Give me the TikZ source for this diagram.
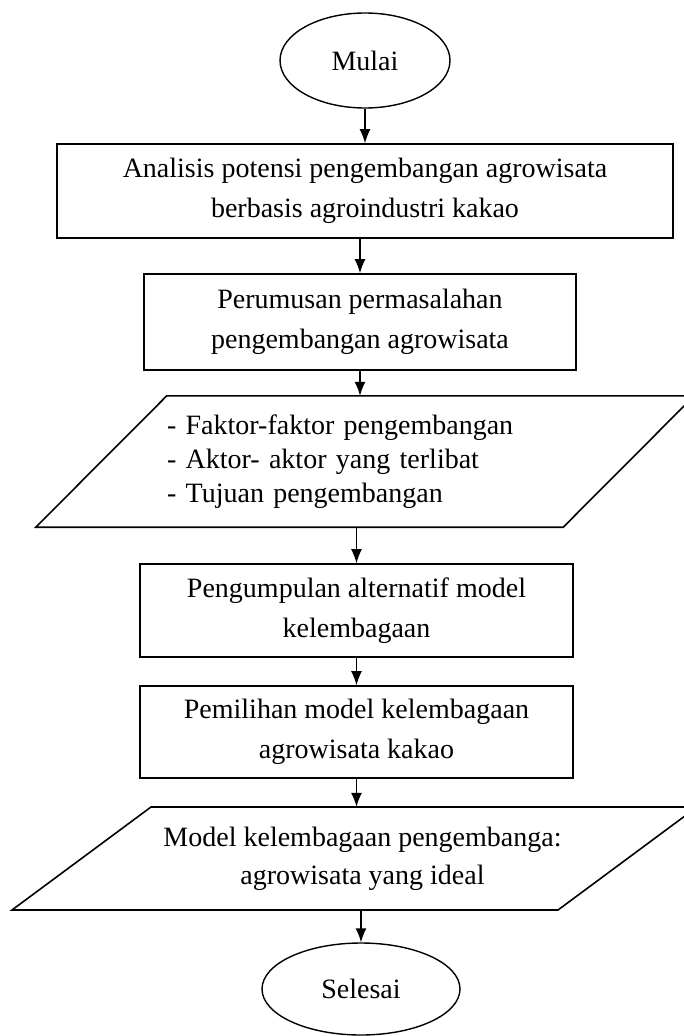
\documentclass[tikz,border=0pt]{standalone}
\usepackage{fontspec}
\setmainfont{Liberation Serif}
\usetikzlibrary{shapes, arrows.meta}

\begin{document}
\begin{tikzpicture}[x=1pt, y=-1pt,
	box/.style={draw, rectangle, line width=1.6pt, align=center, inner sep=0pt,
		font=\fontsize{28}{40}\selectfont},
	oval/.style={draw, ellipse, line width=1.4pt, inner sep=0pt,
		font=\fontsize{28}{40}\selectfont},
	plain/.style={rectangle, inner sep=0pt},
	arrow/.style={->, line width=1.4pt, >={Latex[length=14pt, width=11pt]}}]
	\def \slantA {131}

	\useasboundingbox (0,0) rectangle (684,1036);

	\node[oval, minimum width=170pt, minimum height=95pt] (start) at (365,60.5)
		{Mulai};
	\node[box, minimum width=616pt, minimum height=94pt] (first) at (365,191)
		{Analisis potensi pengembangan agrowisata\\ berbasis agroindustri kakao};
	\node[box, minimum width=432pt, minimum height=96pt] (second) at (360,322)
		{Perumusan permasalahan\\ pengembangan agrowisata};
	\node[plain, text width=396pt, align=left, minimum height=131pt,
		font=\fontsize{28}{34}\selectfont] (third) at (365,461.5)
		{- Faktor-faktor pengembangan\\ - Aktor- aktor yang terlibat\\ - Tujuan pengembangan};
	\node[box, minimum width=433pt, minimum height=93pt] (fourth) at (356.5,610.5)
		{Pengumpulan alternatif model\\ kelembagaan};
	\node[box, minimum width=433pt, minimum height=92pt] (fifth) at (356.5,732)
		{Pemilihan model kelembagaan\\ agrowisata kakao};
	\node[plain, align=center, minimum height=103pt,
		font=\fontsize{28}{38}\selectfont] (sixth) at (362.5,858.5)
		{Model kelembagaan pengembanga:\\ agrowisata yang ideal};
	\node[oval, minimum width=198pt, minimum height=92pt] (finish) at (361,989)
		{Selesai};

	% parallelograms round the two text nodes
	\draw[line width=1.6pt] ([xshift=-\slantA pt]third.south west) -- (third.north west)
		-- ([xshift=\slantA pt]third.north east) -- (third.south east) -- cycle;
	\draw[line width=1.6pt] ([shift={(-350.5,51.5)}]sixth.center) -- ([shift={(-211.5,-51.5)}]sixth.center)
		-- ([shift={(334.5,-51.5)}]sixth.center) -- ([shift={(195.5,51.5)}]sixth.center) -- cycle;

	\draw[arrow] (start.south) -- (start.south |- first.north);
	\draw[arrow] (second.north |- first.south) -- (second.north);
	\draw[arrow] (second.south) -- (second.south |- third.north);
	\draw[arrow] (fourth.north |- third.south) -- (fourth.north);
	\draw[arrow] (fourth.south) -- (fifth.north);
	\draw[arrow] (fifth.south) -- (fifth.south |- sixth.north);
	\draw[arrow] (finish.north |- sixth.south) -- (finish.north);
\end{tikzpicture}
\end{document}
